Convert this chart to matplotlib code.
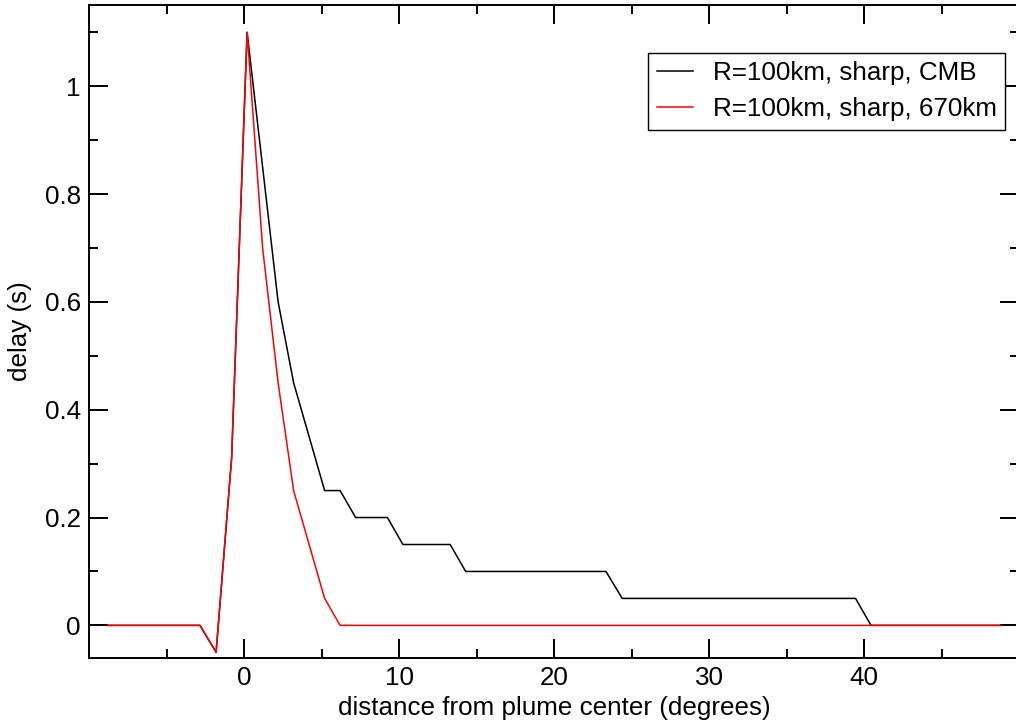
import matplotlib
matplotlib.use("Agg")
import matplotlib.pyplot as plt
from matplotlib.ticker import FixedLocator, MultipleLocator, FuncFormatter

plt.rcParams['font.family'] = ['Liberation Sans', 'DejaVu Sans']

# distance from plume center (degrees)
dist = [-8.8, -2.84, -1.8, -0.8, 0.2, 1.2, 2.2, 3.2, 4.2, 5.2, 6.2, 7.2,
        9.25, 10.25, 13.3, 14.3, 23.35, 24.4, 39.45, 40.45, 48.8]

# travel-time delay (s)
delay_cmb = [0.0, 0.0, -0.05, 0.31, 1.1, 0.85, 0.6, 0.45, 0.35, 0.25, 0.25, 0.2,
             0.2, 0.15, 0.15, 0.1, 0.1, 0.05, 0.05, 0.0, 0.0]
delay_670 = [0.0, 0.0, -0.05, 0.31, 1.1, 0.7, 0.45, 0.25, 0.15, 0.05, 0.0, 0.0,
             0.0, 0.0, 0.0, 0.0, 0.0, 0.0, 0.0, 0.0, 0.0]

labels = ["R=100km, sharp, CMB", "R=100km, sharp, 670km"]
x_major = [0, 10, 20, 30, 40]

FS = 18.7

fig = plt.figure(figsize=(10.16, 7.25), dpi=100)
ax = fig.add_axes([0.0876, 0.0928, 0.9154, 0.8999])

ax.plot(dist, delay_cmb, color='black', lw=1.1, label=labels[0])
ax.plot(dist, delay_670, color='red', lw=1.1, label=labels[1])

ax.set_xlim(-10, 50)
ax.set_ylim(-0.06, 1.15)

ax.xaxis.set_major_locator(FixedLocator(x_major))
ax.xaxis.set_minor_locator(FixedLocator([-5, 5, 15, 25, 35, 45]))
ax.yaxis.set_major_locator(MultipleLocator(0.2))
ax.yaxis.set_minor_locator(MultipleLocator(0.1))
ax.yaxis.set_major_formatter(FuncFormatter(lambda v, p: f"{v:g}"))

ax.tick_params(which='both', direction='in', top=True, right=True,
               labelsize=FS, width=1.4, colors='black', pad=6)
ax.tick_params(which='major', length=13.5)
ax.tick_params(which='minor', length=6.8)
for s in ax.spines.values():
    s.set_linewidth(1.4)

ax.set_xlabel("distance from plume center (degrees)", fontsize=FS, labelpad=4)
ax.set_ylabel("delay (s)", fontsize=FS, labelpad=9)

leg = ax.legend(loc='upper right', bbox_to_anchor=(0.985, 0.927),
                borderaxespad=0, fontsize=FS, fancybox=False, framealpha=1,
                edgecolor='black', handlelength=1.38, handletextpad=0.77,
                borderpad=0.33, labelspacing=0.45)
leg.get_frame().set_linewidth(1.0)

fig.savefig("out.png", dpi=100)
